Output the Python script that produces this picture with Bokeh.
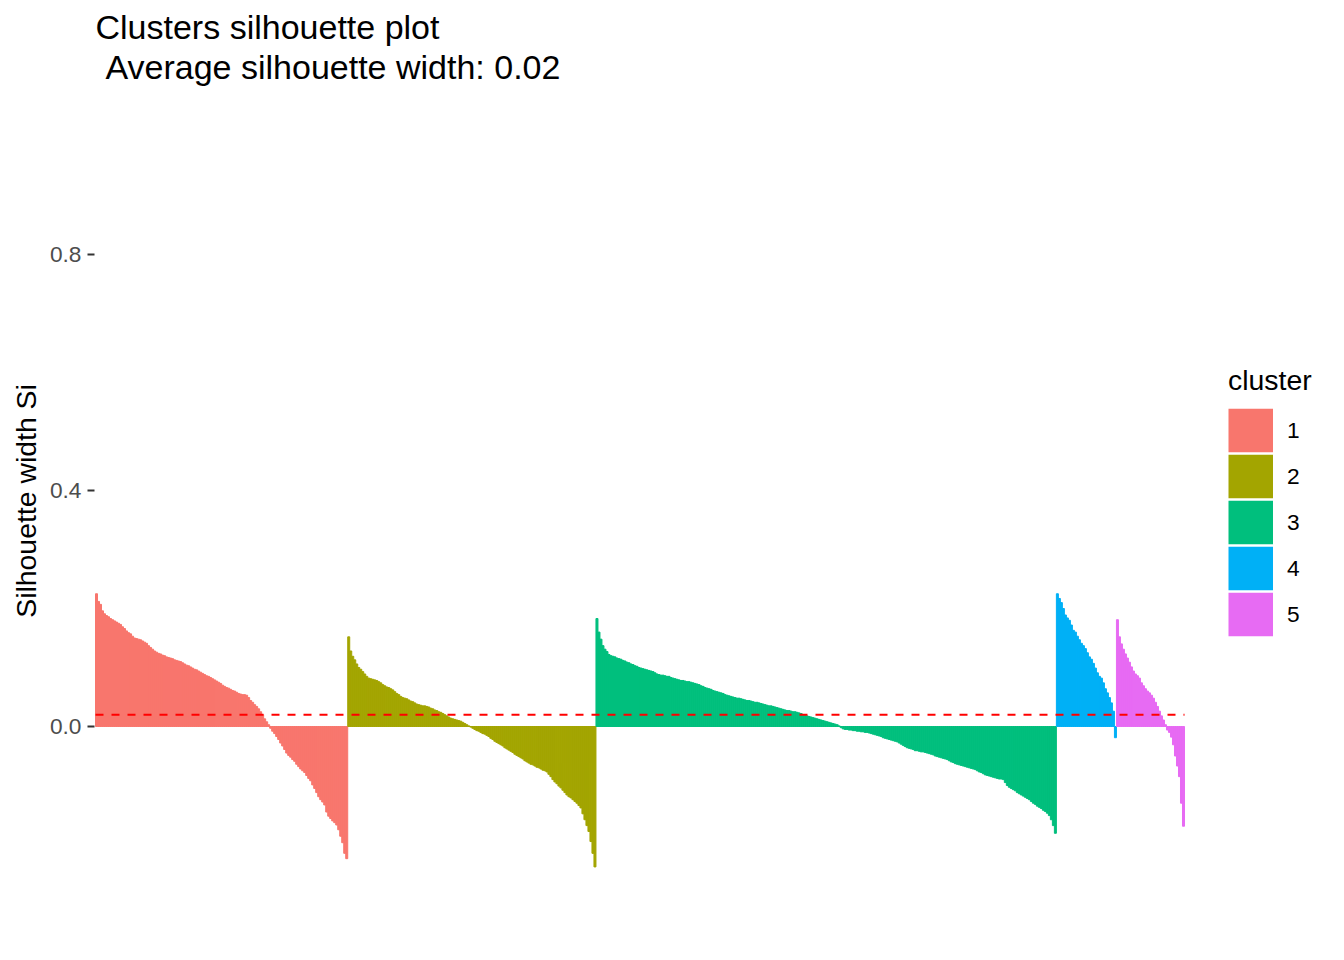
import numpy as np
from bokeh.plotting import figure
from bokeh.models import (ColumnDataSource, Range1d, FixedTicker, PrintfTickFormatter,
                          Legend, LegendItem, Title)
from bokeh.embed import file_html
from bokeh.resources import INLINE

# ---------------- data ----------------
cluster_labels = ["1", "2", "3", "4", "5"]
cluster_colors = ["#F8766D", "#A3A500", "#00BF7D", "#00B0F6", "#E76BF3"]

sil_cluster1 = [
    0.225, 0.212, 0.207, 0.196, 0.191, 0.188, 0.186, 0.183, 0.181, 0.179,
    0.177, 0.175, 0.173, 0.169, 0.166, 0.162, 0.159, 0.157, 0.153, 0.150,
    0.149, 0.148, 0.147, 0.145, 0.143, 0.141, 0.137, 0.134, 0.131, 0.128,
    0.126, 0.124, 0.123, 0.121, 0.120, 0.118, 0.117, 0.116, 0.115, 0.113,
    0.112, 0.111, 0.110, 0.108, 0.106, 0.104, 0.103, 0.101, 0.099, 0.097,
    0.096, 0.094, 0.092, 0.090, 0.088, 0.086, 0.085, 0.083, 0.081, 0.079,
    0.077, 0.075, 0.073, 0.070, 0.068, 0.066, 0.065, 0.063, 0.061, 0.060,
    0.058, 0.056, 0.055, 0.054, 0.054, 0.053, 0.049, 0.044, 0.041, 0.037,
    0.034, 0.030, 0.025, 0.020, 0.013, 0.008, 0.003, -0.003, -0.008, -0.012,
    -0.017, -0.022, -0.028, -0.033, -0.039, -0.045, -0.049, -0.052, -0.056, -0.059,
    -0.064, -0.068, -0.072, -0.075, -0.078, -0.083, -0.088, -0.092, -0.099, -0.105,
    -0.112, -0.119, -0.124, -0.128, -0.133, -0.145, -0.152, -0.156, -0.160, -0.163,
    -0.167, -0.175, -0.186, -0.197, -0.215, -0.224,
]

sil_cluster2 = [
    0.152, 0.128, 0.119, 0.113, 0.106, 0.100, 0.097, 0.093, 0.089, 0.085,
    0.082, 0.081, 0.080, 0.079, 0.078, 0.076, 0.074, 0.071, 0.069, 0.067,
    0.066, 0.064, 0.062, 0.059, 0.056, 0.054, 0.051, 0.049, 0.048, 0.047,
    0.045, 0.043, 0.042, 0.040, 0.038, 0.037, 0.036, 0.035, 0.035, 0.034,
    0.033, 0.031, 0.030, 0.028, 0.027, 0.025, 0.024, 0.022, 0.020, 0.018,
    0.016, 0.014, 0.013, 0.012, 0.011, 0.010, 0.009, 0.007, 0.005, 0.003,
    0.001, -0.001, -0.003, -0.005, -0.007, -0.008, -0.010, -0.012, -0.013, -0.015,
    -0.017, -0.020, -0.022, -0.025, -0.027, -0.029, -0.031, -0.033, -0.036, -0.038,
    -0.040, -0.042, -0.044, -0.047, -0.049, -0.051, -0.053, -0.055, -0.058, -0.060,
    -0.062, -0.064, -0.065, -0.067, -0.069, -0.070, -0.072, -0.074, -0.075, -0.077,
    -0.081, -0.085, -0.090, -0.094, -0.097, -0.101, -0.104, -0.108, -0.112, -0.116,
    -0.119, -0.121, -0.124, -0.127, -0.130, -0.134, -0.138, -0.148, -0.158, -0.168,
    -0.178, -0.195, -0.215, -0.238,
]

sil_cluster3 = [
    0.183, 0.160, 0.148, 0.137, 0.131, 0.127, 0.122, 0.120, 0.119, 0.118,
    0.116, 0.115, 0.114, 0.112, 0.111, 0.109, 0.108, 0.106, 0.105, 0.103,
    0.102, 0.100, 0.099, 0.098, 0.097, 0.096, 0.095, 0.094, 0.093, 0.091,
    0.089, 0.088, 0.087, 0.087, 0.086, 0.085, 0.085, 0.083, 0.082, 0.081,
    0.080, 0.079, 0.078, 0.078, 0.077, 0.076, 0.076, 0.075, 0.074, 0.073,
    0.072, 0.071, 0.069, 0.068, 0.066, 0.065, 0.064, 0.063, 0.061, 0.060,
    0.059, 0.058, 0.057, 0.056, 0.054, 0.053, 0.052, 0.051, 0.050, 0.049,
    0.048, 0.048, 0.047, 0.046, 0.045, 0.044, 0.044, 0.043, 0.042, 0.041,
    0.041, 0.040, 0.039, 0.038, 0.037, 0.036, 0.035, 0.035, 0.034, 0.033,
    0.032, 0.031, 0.030, 0.029, 0.028, 0.027, 0.027, 0.026, 0.025, 0.025,
    0.024, 0.023, 0.022, 0.020, 0.019, 0.018, 0.017, 0.016, 0.015, 0.014,
    0.013, 0.012, 0.011, 0.010, 0.009, 0.008, 0.007, 0.006, 0.005, 0.004,
    0.003, 0.001, -0.002, -0.004, -0.005, -0.005, -0.006, -0.006, -0.007, -0.007,
    -0.008, -0.008, -0.009, -0.009, -0.010, -0.010, -0.011, -0.012, -0.013, -0.014,
    -0.015, -0.016, -0.017, -0.019, -0.020, -0.021, -0.022, -0.023, -0.024, -0.025,
    -0.026, -0.028, -0.030, -0.032, -0.034, -0.036, -0.037, -0.038, -0.039, -0.041,
    -0.041, -0.042, -0.043, -0.043, -0.044, -0.045, -0.046, -0.047, -0.048, -0.050,
    -0.051, -0.052, -0.053, -0.054, -0.055, -0.056, -0.058, -0.060, -0.061, -0.063,
    -0.064, -0.065, -0.066, -0.067, -0.068, -0.069, -0.070, -0.071, -0.072, -0.073,
    -0.075, -0.077, -0.078, -0.080, -0.082, -0.083, -0.084, -0.085, -0.086, -0.087,
    -0.088, -0.089, -0.089, -0.090, -0.095, -0.100, -0.103, -0.105, -0.107, -0.109,
    -0.112, -0.114, -0.116, -0.118, -0.120, -0.122, -0.124, -0.127, -0.130, -0.132,
    -0.135, -0.137, -0.139, -0.142, -0.144, -0.147, -0.151, -0.158, -0.168, -0.181,
]

sil_cluster4 = [
    0.225, 0.217, 0.210, 0.200, 0.189, 0.184, 0.180, 0.172, 0.163, 0.160,
    0.153, 0.147, 0.141, 0.137, 0.132, 0.125, 0.118, 0.114, 0.107, 0.099,
    0.091, 0.085, 0.082, 0.074, 0.064, 0.057, 0.049, 0.040, 0.026, -0.019,
]

sil_cluster5 = [
    0.181, 0.152, 0.140, 0.131, 0.123, 0.116, 0.109, 0.101, 0.094, 0.089,
    0.086, 0.082, 0.074, 0.069, 0.064, 0.060, 0.057, 0.053, 0.048, 0.041,
    0.034, 0.026, 0.018, 0.011, 0.003, -0.006, -0.010, -0.018, -0.031, -0.050,
    -0.067, -0.085, -0.130, -0.169,
]

avg_sil_width = 0.02
y_ticks = [0.0, 0.4, 0.8]

clusters = [sil_cluster1, sil_cluster2, sil_cluster3, sil_cluster4, sil_cluster5]

# ---------------- layout constants ----------------
W, H = 1344, 960
FRAME_LEFT = 94
FRAME_TOP = 89
FRAME_BOTTOM = 912
BAR_LEFT_PX, BAR_RIGHT_PX = 95, 1184
ZERO_PX, PX_PER_UNIT = 726, 590.0
FONT = "Liberation Sans"
LEGEND_LEFT_PX, LEGEND_ITEMS_BOTTOM_PX = 1228, 637

N = sum(len(c) for c in clusters)
ppu = (BAR_RIGHT_PX - BAR_LEFT_PX) / N
x_range = Range1d(-(BAR_LEFT_PX - FRAME_LEFT) / ppu, N + (W - BAR_RIGHT_PX) / ppu)
y_range = Range1d(-(FRAME_BOTTOM - ZERO_PX) / PX_PER_UNIT, (ZERO_PX - FRAME_TOP) / PX_PER_UNIT)

p = figure(width=W, height=H, output_backend="svg", toolbar_location=None,
           x_axis_location=None, title=None,
           x_range=x_range, y_range=y_range,
           min_border_left=FRAME_LEFT, min_border_right=0,
           min_border_top=FRAME_TOP, min_border_bottom=H - FRAME_BOTTOM)
p.outline_line_color = None
p.xgrid.grid_line_color = None
p.ygrid.grid_line_color = None
p.background_fill_color = "white"
p.border_fill_color = "white"

# y axis
ax = p.yaxis[0]
ax.ticker = FixedTicker(ticks=y_ticks)
ax.formatter = PrintfTickFormatter(format="%.1f")
ax.axis_line_color = None
ax.major_tick_out = 7
ax.major_tick_in = 0
ax.major_tick_line_color = "#333333"
ax.major_tick_line_width = 2
ax.minor_tick_line_color = None
ax.major_label_text_font = FONT
ax.major_label_text_font_size = "22.7px"
ax.major_label_text_color = "#4D4D4D"
ax.major_label_standoff = 6
ax.axis_label = "Silhouette width Si"
ax.axis_label_text_font = FONT
ax.axis_label_text_font_size = "28.4px"
ax.axis_label_text_font_style = "normal"
ax.axis_label_text_color = "black"
ax.axis_label_standoff = 5

# bars
renderers = []
offset = 0
for vals, col in zip(clusters, cluster_colors):
    xs = offset + np.arange(len(vals)) + 0.5
    src = ColumnDataSource(dict(x=xs, top=vals))
    r = p.vbar(x="x", top="top", bottom=0, width=1, source=src,
               fill_color=col, line_color=col, line_width=1)
    # legend key: a wide band (draws nothing in the plot, only the key)
    key = p.line(x=[np.nan, np.nan], y=[np.nan, np.nan], line_color=col,
                 line_width=43.5, line_cap="butt")
    renderers.append((r, key))
    offset += len(vals)

# average silhouette width line
p.line(x=[0, N], y=[avg_sil_width, avg_sil_width], line_color="#FF0000",
       line_width=2, line_dash="8 8")

# legend
items = [LegendItem(label=lab, renderers=list(rs)) for lab, rs in zip(cluster_labels, renderers)]
legend = Legend(items=items,
                location=(LEGEND_LEFT_PX - FRAME_LEFT, FRAME_BOTTOM - LEGEND_ITEMS_BOTTOM_PX),
                title="cluster",
                title_text_font=FONT, title_text_font_size="28.4px",
                title_text_font_style="normal", title_text_color="black",
                title_standoff=10,
                label_text_font=FONT, label_text_font_size="22.7px",
                label_text_color="black",
                glyph_width=45, glyph_height=46, spacing=0, label_standoff=14,
                padding=10, margin=0, border_line_color=None,
                background_fill_alpha=0)
p.add_layout(legend)

# titles
t2 = Title(text="Average silhouette width: 0.02", align="left", offset=11, standoff=8,
           text_font=FONT, text_font_size="34px", text_font_style="normal",
           text_color="black")
t1 = Title(text="Clusters silhouette plot", align="left", offset=1, standoff=-9,
           text_font=FONT, text_font_size="34px", text_font_style="normal",
           text_color="black")
p.add_layout(t2, "above")
p.add_layout(t1, "above")

open("out.html", "w").write(file_html(p, INLINE))
